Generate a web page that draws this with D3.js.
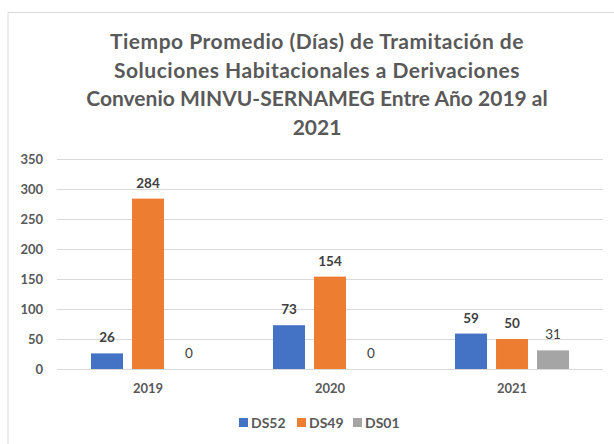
<!DOCTYPE html>
<html>
<head>
<meta charset="utf-8">
<script src="https://cdn.jsdelivr.net/npm/d3@7"></script>
<style>
  body { margin: 0; background: #fff; }
  text { font-family: Lato, "Open Sans", sans-serif; }
</style>
</head>
<body>
<div id="chart"></div>
<script>
// chart data
const years = ["2019", "2020", "2021"];
const seriesNames = ["DS52", "DS49", "DS01"];
const ds52 = [26, 73, 59];
const ds49 = [284, 154, 50];
const ds01 = [0, 0, 31];
const yTicks = [0, 50, 100, 150, 200, 250, 300, 350];
const titleLines = [
  "Tiempo Promedio (Días) de Tramitación de",
  "Soluciones Habitacionales a Derivaciones",
  "Convenio MINVU-SERNAMEG Entre Año 2019 al",
  "2021"
];

const colors = ["#4472C4", "#ED7D31", "#A5A5A5"];
const labelWeights = ["bold", "bold", "normal"];
const textColor = "#595959";

function init() {
  const W = 614, H = 444;
  const svg = d3.select("#chart").append("svg")
    .attr("width", W).attr("height", H);

  // chart frame (only top and left edges visible)
  svg.append("path")
    .attr("d", `M8,${H} L8,12.5 L${W},12.5`)
    .attr("fill", "none")
    .attr("stroke", "#d9d9d9")
    .attr("stroke-width", 1);

  // title
  svg.append("g").selectAll("text")
    .data(titleLines)
    .enter().append("text")
    .attr("x", 317)
    .attr("y", (d, i) => 49 + i * 28.5)
    .attr("text-anchor", "middle")
    .style("font-size", "21px")
    .style("font-weight", "bold")
    .style("letter-spacing", (d, i) => i < 2 ? "0.5px" : "0px")
    .style("fill", textColor)
    .text(d => d);

  const margin = { left: 57, right: 11, top: 159, bottom: 75 };
  const plotW = W - margin.left - margin.right;
  const plotH = H - margin.top - margin.bottom;

  const g = svg.append("g")
    .attr("transform", `translate(${margin.left},${margin.top})`);

  const y = d3.scaleLinear().domain([0, 350]).range([plotH, 0]);
  const x0 = d3.scaleBand().domain(years).range([0, plotW]);
  const x1 = d3.scaleBand().domain(seriesNames)
    .range([x0.bandwidth() / 2 - 61.5, x0.bandwidth() / 2 + 61.5])
    .paddingInner(0.22).paddingOuter(0.11);

  // gridlines
  g.append("g").selectAll("line")
    .data(yTicks)
    .enter().append("line")
    .attr("x1", 0).attr("x2", plotW)
    .attr("y1", d => Math.round(y(d)) + 0.5)
    .attr("y2", d => Math.round(y(d)) + 0.5)
    .attr("stroke", "#d9d9d9")
    .attr("stroke-width", 1);

  // y axis labels
  const yAxis = g.append("g")
    .call(d3.axisLeft(y).tickValues(yTicks).tickSize(0).tickPadding(14));
  yAxis.select(".domain").remove();
  yAxis.selectAll("text")
    .style("font-size", "13px")
    .style("font-weight", "bold")
    .style("fill", textColor)
    .style("font-family", "Lato, sans-serif");

  // x axis labels
  const xAxis = g.append("g")
    .attr("transform", `translate(0,${plotH})`)
    .call(d3.axisBottom(x0).tickSize(0).tickPadding(15));
  xAxis.select(".domain").remove();
  xAxis.selectAll("text")
    .style("font-size", "13px")
    .style("font-weight", "bold")
    .style("fill", textColor)
    .style("font-family", "Lato, sans-serif");

  const seriesValues = [ds52, ds49, ds01];
  const rows = [];
  years.forEach((yr, i) => {
    seriesNames.forEach((s, j) => {
      rows.push({ year: yr, series: s, value: seriesValues[j][i], idx: j });
    });
  });

  g.append("g").selectAll("rect")
    .data(rows)
    .enter().append("rect")
    .attr("x", d => x0(d.year) + x1(d.series))
    .attr("y", d => y(d.value))
    .attr("width", x1.bandwidth())
    .attr("height", d => plotH - y(d.value))
    .attr("fill", d => colors[d.idx]);

  // data labels
  g.append("g").selectAll("text")
    .data(rows)
    .enter().append("text")
    .attr("x", d => x0(d.year) + x1(d.series) + x1.bandwidth() / 2)
    .attr("y", d => y(d.value) - 11)
    .attr("text-anchor", "middle")
    .style("font-size", "13.5px")
    .style("font-weight", d => labelWeights[d.idx])
    .style("fill", "#404040")
    .text(d => d.value);

  // legend
  const legendX = [239, 297, 353];
  const legend = svg.append("g").selectAll("g")
    .data(seriesNames)
    .enter().append("g")
    .attr("transform", (d, i) => `translate(${legendX[i]},418)`);
  legend.append("rect")
    .attr("width", 9).attr("height", 9)
    .attr("fill", (d, i) => colors[i]);
  legend.append("text")
    .attr("x", 12).attr("y", 9.5)
    .style("font-size", "14px")
    .style("font-weight", "bold")
    .style("fill", textColor)
    .text(d => d);
}

window.onload = init;
</script>
</body>
</html>
